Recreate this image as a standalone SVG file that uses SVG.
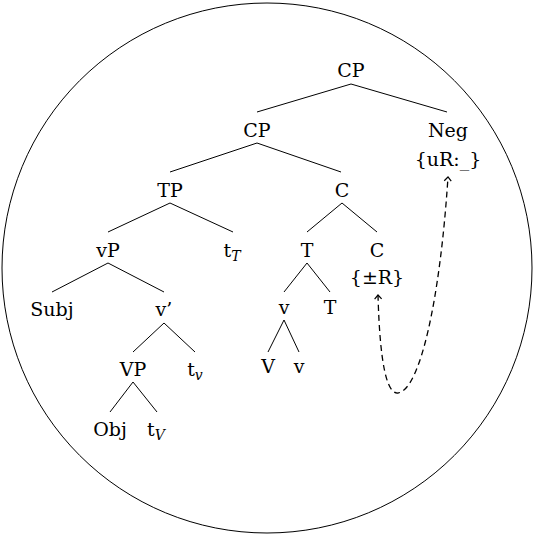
<svg xmlns="http://www.w3.org/2000/svg" width="534" height="537" viewBox="0 0 534 537">
<style>
text{font-family:"DejaVu Serif","Liberation Serif",serif;font-size:19px;fill:#000;text-anchor:middle}
.sub{font-style:italic;font-size:14px}
.e{stroke:#000;stroke-width:1;fill:none}
.d{stroke:#000;stroke-width:1.3;fill:none;stroke-dasharray:6 4}
</style>
<defs>
<marker id="ah" markerUnits="userSpaceOnUse" markerWidth="12" markerHeight="12" refX="0" refY="0" viewBox="-6 -6 12 12" orient="auto-start-reverse">
<path d="M-4,-3.5 L0,0 L-4,3.5" stroke="#000" stroke-width="1.2" fill="none" stroke-dasharray="none"/>
</marker>
</defs>
<circle cx="267" cy="268" r="265" fill="none" stroke="#000" stroke-width="1"/>
<g id="connectors">
<path class="e" d="M351,84 L257,112 M351,84 L447,112"/>
<path class="e" d="M257,143 L170,172 M257,143 L341,172"/>
<path class="e" d="M170,203 L108,232 M170,203 L233,232"/>
<path class="e" d="M108,263 L52,292 M108,263 L164,292"/>
<path class="e" d="M164,323 L133,352 M164,323 L195,352"/>
<path class="e" d="M133,382 L110,412 M133,382 L157,412"/>
<path class="e" d="M342,203 L307,232 M342,203 L377,232"/>
<path class="e" d="M307,263 L284,292 M307,263 L330,292"/>
<path class="e" d="M284,320 L268,352 M284,320 L299,352"/>
<path class="d" d="M378,295 C379,330 382,395 398,393 C420,390 440,300 448,177" marker-start="url(#ah)" marker-end="url(#ah)"/>
</g>
<g id="cp-top"><text x="351" y="77">CP</text></g>
<g id="cp"><text x="257" y="137">CP</text></g>
<g id="neg"><text x="448" y="137">Neg</text><text x="448" y="166">{uR:_}</text></g>
<g id="tp"><text x="170" y="197">TP</text></g>
<g id="c-bar"><text x="342" y="197">C</text></g>
<g id="vp"><text x="108" y="257">vP</text></g>
<g id="t-trace"><text x="232" y="257">t<tspan class="sub" dy="4">T</tspan></text></g>
<g id="t-head"><text x="307" y="257">T</text></g>
<g id="c-head"><text x="377" y="257">C</text><text x="377" y="284">{±R}</text></g>
<g id="subj"><text x="52" y="316">Subj</text></g>
<g id="v-bar"><text x="164" y="316">v’</text></g>
<g id="v-head"><text x="284" y="314">v</text></g>
<g id="t-low"><text x="330" y="314">T</text></g>
<g id="vp-low"><text x="133" y="376">VP</text></g>
<g id="tv-trace"><text x="195" y="376">t<tspan class="sub" dy="4">v</tspan></text></g>
<g id="V"><text x="268" y="373">V</text></g>
<g id="v-low"><text x="299" y="373">v</text></g>
<g id="obj"><text x="110" y="436">Obj</text></g>
<g id="tV-trace"><text x="156" y="436">t<tspan class="sub" dy="4">V</tspan></text></g>
</svg>
